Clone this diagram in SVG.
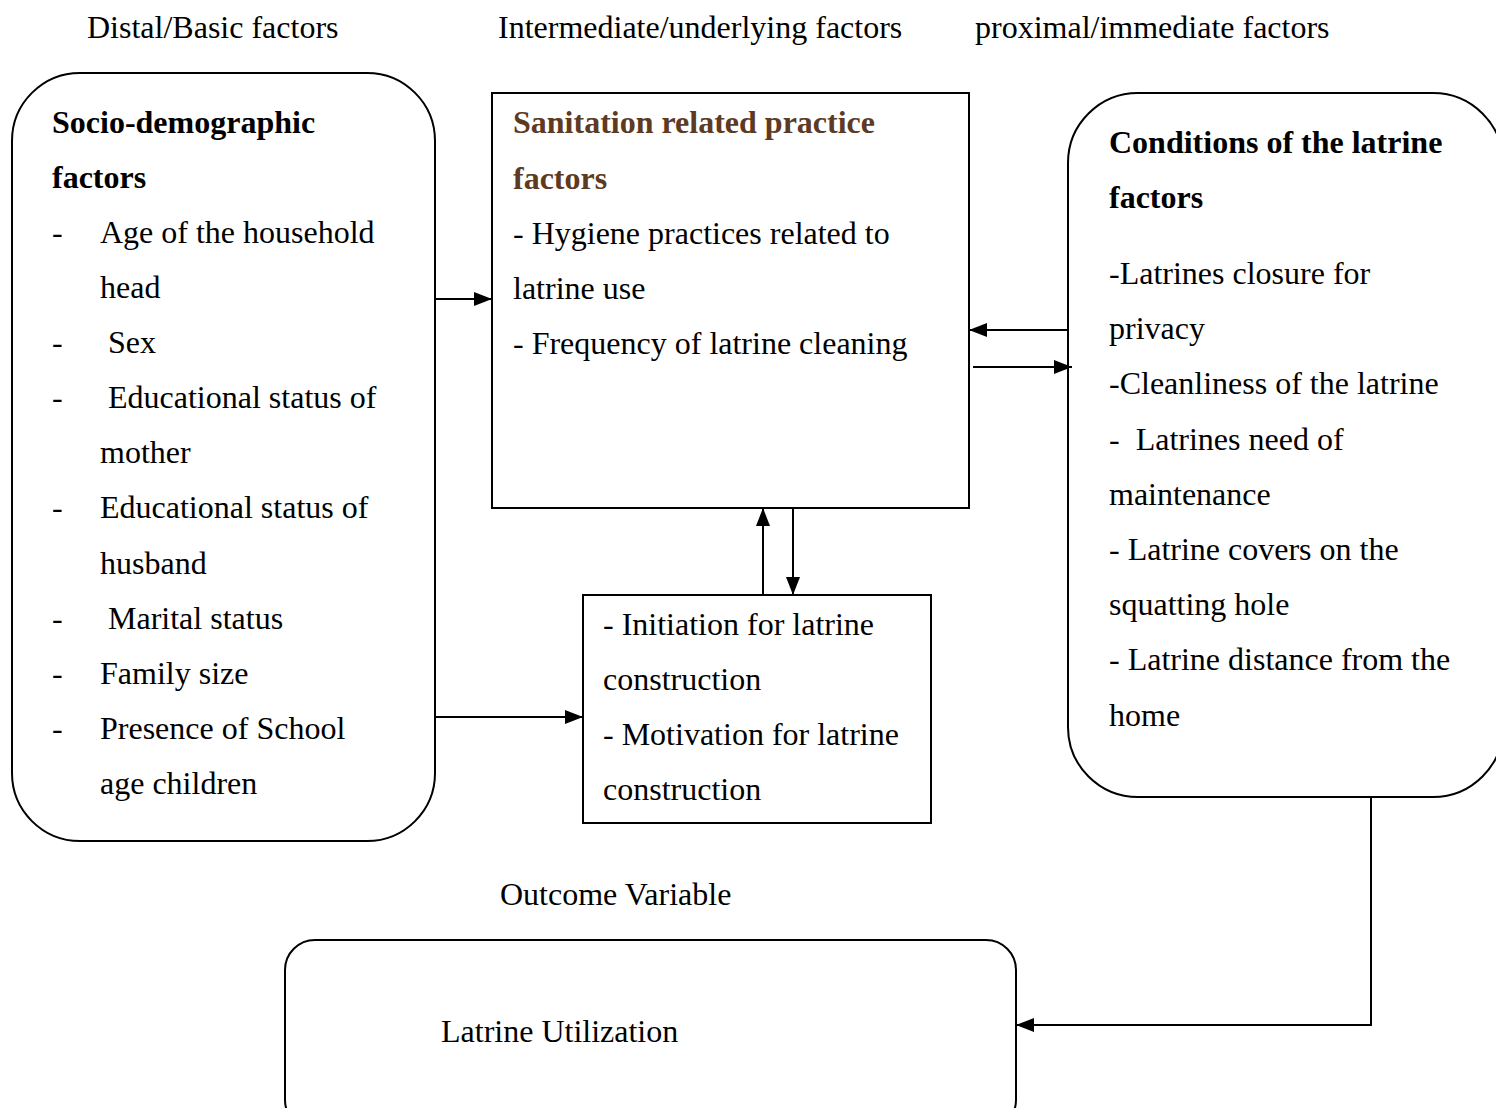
<svg xmlns="http://www.w3.org/2000/svg" width="1496" height="1108" viewBox="0 0 1496 1108">
<style>
text{font-family:"Liberation Serif","Times New Roman",serif;font-size:32px;fill:#000}
.b{font-weight:bold}
.br{font-weight:bold;fill:#5E3A22}
.box{fill:#fff;stroke:#000;stroke-width:2}
.con{fill:none;stroke:#000;stroke-width:2}
</style>
<defs>
<marker id="ah" markerUnits="userSpaceOnUse" markerWidth="18" markerHeight="14" refX="18" refY="7" orient="auto">
<path d="M0,0 L18,7 L0,14 Z" fill="#000"/>
</marker>
</defs>
<rect width="1496" height="1108" fill="#fff"/>
<g id="headers">
<text x="87" y="38">Distal/Basic factors</text>
<text x="498" y="38">Intermediate/underlying factors</text>
<text x="975" y="38">proximal/immediate factors</text>
<text x="500" y="905">Outcome Variable</text>
</g>
<g id="socio">
<rect class="box" x="12" y="73" width="423" height="768" rx="68" ry="68"/>
<text class="b" x="52" y="133">Socio-demographic</text>
<text class="b" x="52" y="188">factors</text>
<text x="52" y="243">-</text><text x="100" y="243">Age of the household</text>
<text x="100" y="298">head</text>
<text x="52" y="353">-</text><text x="108" y="353">Sex</text>
<text x="52" y="408">-</text><text x="108" y="408">Educational status of</text>
<text x="100" y="463">mother</text>
<text x="52" y="518">-</text><text x="100" y="518">Educational status of</text>
<text x="100" y="574">husband</text>
<text x="52" y="629">-</text><text x="108" y="629">Marital status</text>
<text x="52" y="684">-</text><text x="100" y="684">Family size</text>
<text x="52" y="739">-</text><text x="100" y="739">Presence of School</text>
<text x="100" y="794">age children</text>
</g>
<g id="sanitation">
<rect class="box" x="492" y="93" width="477" height="415"/>
<text class="br" x="513" y="133">Sanitation related practice</text>
<text class="br" x="513" y="189">factors</text>
<text x="513" y="244">- Hygiene practices related to</text>
<text x="513" y="299">latrine use</text>
<text x="513" y="354">- Frequency of latrine cleaning</text>
</g>
<g id="initiation">
<rect class="box" x="583" y="595" width="348" height="228"/>
<text x="603" y="635">- Initiation for latrine</text>
<text x="603" y="690">construction</text>
<text x="603" y="745">- Motivation for latrine</text>
<text x="603" y="800">construction</text>
</g>
<g id="conditions">
<rect class="box" x="1068" y="93" width="435" height="704" rx="70" ry="70"/>
<text class="b" x="1109" y="153">Conditions of the latrine</text>
<text class="b" x="1109" y="208">factors</text>
<text x="1109" y="284">-Latrines closure for</text>
<text x="1109" y="339">privacy</text>
<text x="1109" y="394">-Cleanliness of the latrine</text>
<text x="1109" y="450" xml:space="preserve">-  Latrines need of</text>
<text x="1109" y="505">maintenance</text>
<text x="1109" y="560">- Latrine covers on the</text>
<text x="1109" y="615">squatting hole</text>
<text x="1109" y="670">- Latrine distance from the</text>
<text x="1109" y="726">home</text>
</g>
<g id="outcome">
<rect class="box" x="285" y="940" width="731" height="190" rx="30" ry="30"/>
<text x="441" y="1042">Latrine Utilization</text>
</g>
<g id="connectors">
<line class="con" x1="435" y1="299" x2="492" y2="299" marker-end="url(#ah)"/>
<line class="con" x1="435" y1="717" x2="583" y2="717" marker-end="url(#ah)"/>
<line class="con" x1="1068" y1="330" x2="969" y2="330" marker-end="url(#ah)"/>
<line class="con" x1="973" y1="367" x2="1072" y2="367" marker-end="url(#ah)"/>
<line class="con" x1="763" y1="595" x2="763" y2="508" marker-end="url(#ah)"/>
<line class="con" x1="793" y1="508" x2="793" y2="595" marker-end="url(#ah)"/>
<path class="con" d="M1371,797 V1025 H1016" marker-end="url(#ah)"/>
</g>
</svg>
